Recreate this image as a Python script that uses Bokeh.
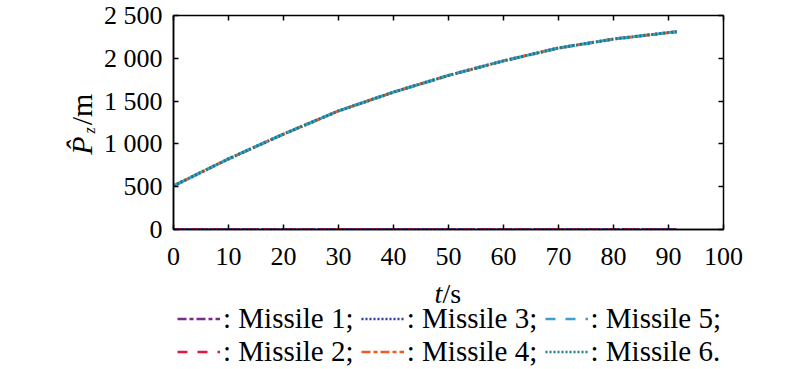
import math
from bokeh.plotting import figure
from bokeh.models import (LinearAxis, FixedTicker, Range1d, Label, Legend, LegendItem)
from bokeh.layouts import row, column
from bokeh.embed import file_html
from bokeh.resources import INLINE

# data
t = [0, 10, 20, 30, 40, 50, 60, 70, 80, 90, 91.5]
pz_curve = [510, 825, 1115, 1385, 1605, 1800, 1970, 2120, 2225, 2300, 2310]
pz_zero = [0, 0, 0, 0, 0, 0, 0, 0, 0, 0, 0]
x_ticks = [0, 10, 20, 30, 40, 50, 60, 70, 80, 90, 100]
y_ticks = [0, 500, 1000, 1500, 2000, 2500]
y_tick_labels = ["0", "500", "1 000", "1 500", "2 000", "2 500"]
missile_names = ["Missile 1", "Missile 2", "Missile 3", "Missile 4", "Missile 5", "Missile 6"]
missile_colors = ["#7B2A8A", "#E3173E", "#2B3AA0", "#F15A22", "#3CA0D0", "#1E7A82"]
missile_dashes = ["9 3 4 3", "13 5", "2 2", "9 3 4 3", "13 5", "2 2"]
legend_dashes = ["9 3 4 3", "10 10", "2 2", "9 3 4 3", "10 10", "2 2"]
missile_series = [pz_zero, pz_zero, pz_zero, pz_curve, pz_curve, pz_curve]

FONT = "Liberation Serif"
TICK_SIZE = "26px"
TITLE_SIZE = "28px"
TOP, FRAME_H, BOTTOM = 15, 214, 47

# ---------------- main plot ----------------
p = figure(frame_width=550, frame_height=FRAME_H, output_backend="svg", toolbar_location=None,
           x_range=Range1d(0, 100), y_range=Range1d(0, 2500),
           min_border_left=73, min_border_right=77, min_border_top=TOP, min_border_bottom=BOTTOM)
p.grid.visible = False
p.outline_line_color = "black"
p.outline_line_width = 1.5

for ax in (p.xaxis[0], p.yaxis[0]):
    ax.major_label_text_font = FONT
    ax.major_label_text_font_size = TICK_SIZE
    ax.major_label_text_color = "black"
    ax.axis_line_color = "black"
    ax.axis_line_width = 1.5
    ax.major_tick_in = 5
    ax.major_tick_out = 0
    ax.major_tick_line_width = 1.5
    ax.minor_tick_line_color = None

p.xaxis[0].ticker = FixedTicker(ticks=x_ticks)
p.yaxis[0].ticker = FixedTicker(ticks=y_ticks)
p.yaxis[0].major_label_overrides = {v: s for v, s in zip(y_ticks, y_tick_labels)}
p.xaxis[0].major_label_standoff = 18
p.yaxis[0].major_label_standoff = 11

# mirror ticks (no labels)
top = LinearAxis(ticker=FixedTicker(ticks=x_ticks), major_label_text_font_size="1px",
                 major_label_text_color=None, major_label_standoff=0, major_tick_in=5,
                 major_tick_out=0, major_tick_line_width=1.5, minor_tick_line_color=None,
                 axis_line_color=None)
right = LinearAxis(ticker=FixedTicker(ticks=y_ticks), major_label_text_font_size="1px",
                   major_label_text_color=None, major_label_standoff=0, major_tick_in=5,
                   major_tick_out=0, major_tick_line_width=1.5, minor_tick_line_color=None,
                   axis_line_color=None)
p.add_layout(top, "above")
p.add_layout(right, "right")

for col, dash, ys in zip(missile_colors, missile_dashes, missile_series):
    p.line(t, ys, line_color=col, line_dash=dash, line_width=3)

# ---------------- y label panel (frame aligned with main frame) ----------------
yl = figure(width=100, height=TOP + FRAME_H + BOTTOM, output_backend="svg",
            toolbar_location=None, x_range=Range1d(0, 1), y_range=Range1d(0, 1), min_border=0)
yl.axis.visible = False
yl.grid.visible = False
yl.outline_line_color = None
ang = math.pi / 2
yl.add_layout(Label(x=81, y=84, x_units="screen", y_units="screen", text="P\u0302",
                    angle=ang, text_font=FONT, text_font_style="italic",
                    text_font_size="30px", text_baseline="middle", text_align="center",
                    text_color="black"))
yl.add_layout(Label(x=89, y=99, x_units="screen", y_units="screen", text="z",
                    angle=ang, text_font=FONT, text_font_style="italic",
                    text_font_size="16px", text_baseline="middle", text_align="center",
                    text_color="black"))
yl.add_layout(Label(x=81, y=120, x_units="screen", y_units="screen", text="/m",
                    angle=ang, text_font=FONT,
                    text_font_size="30px", text_baseline="middle", text_align="center",
                    text_color="black"))

# ---------------- x label + legend panel ----------------
bl = figure(width=800, height=369 - (TOP + FRAME_H + BOTTOM), output_backend="svg",
            toolbar_location=None, x_range=Range1d(0, 1), y_range=Range1d(-2, -1), min_border=0)
bl.axis.visible = False
bl.grid.visible = False
bl.outline_line_color = None
bl.add_layout(Label(x=434, y=76, x_units="screen", y_units="screen", text="t",
                    text_font=FONT, text_font_style="italic",
                    text_font_size=TITLE_SIZE, text_baseline="alphabetic", text_align="left",
                    text_color="black"))
bl.add_layout(Label(x=442, y=76, x_units="screen", y_units="screen", text="/s",
                    text_font=FONT,
                    text_font_size=TITLE_SIZE, text_baseline="alphabetic", text_align="left",
                    text_color="black"))

# legend keys reuse the series (they fall outside this panel's ranges, so only the keys show)
legend_renderers = []
for col, dash, ys in zip(missile_colors, legend_dashes, missile_series):
    legend_renderers.append(bl.line(t, ys, line_color=col, line_dash=dash, line_width=2.5))

pad = "\u00a0"
items = [LegendItem(label=": " + n + (";" + pad if i < 5 else "."), renderers=[r])
         for i, (n, r) in enumerate(zip(missile_names, legend_renderers))]
legend = Legend(items=items, nrows=2, orientation="vertical", location=(177, 1),
                label_text_font=FONT, label_text_font_size="29px", label_text_color="black",
                glyph_width=43, glyph_height=31, label_height=31, label_standoff=3,
                spacing=0, padding=0, margin=0, border_line_color=None,
                background_fill_alpha=0)
bl.add_layout(legend, "center")

layout = column(row(yl, p), bl)
open("out.html", "w").write(file_html(layout, INLINE))
